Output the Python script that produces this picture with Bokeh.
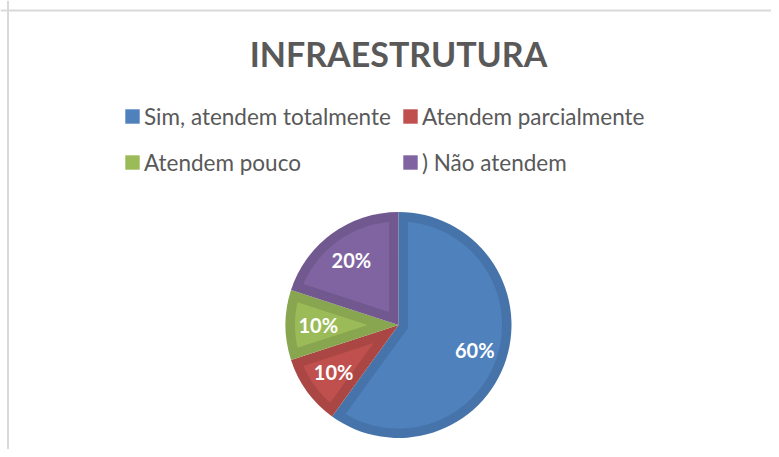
import numpy as np
from bokeh.plotting import figure
from bokeh.models import ColumnDataSource, Range1d, Label, Legend, LegendItem, Span
from bokeh.core.properties import value
from bokeh.embed import file_html
from bokeh.resources import INLINE

# ---- data ----
title_text = "INFRAESTRUTURA"
categories = ["Sim, atendem totalmente", "Atendem parcialmente", "Atendem pouco", ") Não atendem"]
percentages = [60, 10, 10, 20]
fill_colors = ["#4F81BD", "#C0504D", "#9BBB59", "#8064A2"]
edge_colors = ["#4674AA", "#AA4744", "#88A54F", "#71598F"]

# ---- geometry (1 data unit = 1 px) ----
W, H = 771, 449
cx, cy = 398, H - 324.5
R = 113
inset = 9.5
FONT = "Lato"

vals = np.array(percentages, dtype=float)
frac = vals / vals.sum()
cum = np.concatenate([[0.0], np.cumsum(frac)])
start = np.pi / 2 - cum[:-1] * 2 * np.pi
end = np.pi / 2 - cum[1:] * 2 * np.pi
mid = (start + end) / 2
half = frac * np.pi

rho = R - inset
delta = np.arcsin(inset / rho)
xs, ys = [], []
for s, e, m, h in zip(start, end, mid, half):
    shift = inset / np.sin(h)
    ax_, ay_ = cx + shift * np.cos(m), cy + shift * np.sin(m)
    phi = np.linspace(s - delta, e + delta, 120)
    xs.append(np.concatenate([[ax_], cx + rho * np.cos(phi)]))
    ys.append(np.concatenate([[ay_], cy + rho * np.sin(phi)]))

lab_d = 0.71 * R
src = ColumnDataSource(dict(
    category=categories, start=start, end=end,
    fill=fill_colors, edge=edge_colors, xs=xs, ys=ys,
    lx=cx + lab_d * np.cos(mid), ly=cy + lab_d * np.sin(mid),
    label=[f"{v}%" for v in percentages],
))

p = figure(width=W, height=H, x_range=Range1d(0, W), y_range=Range1d(0, H),
           output_backend="svg", toolbar_location=None, min_border=0)
p.axis.visible = False
p.grid.visible = False
p.outline_line_color = None
p.background_fill_color = "white"

p.wedge(x=cx, y=cy, radius=R, start_angle="start", end_angle="end", direction="clock",
        fill_color="edge", line_color=None, source=src)
pr = p.patches(xs="xs", ys="ys", fill_color="fill", line_color=None, source=src)
p.text(x="lx", y="ly", text="label", text_align="center", text_baseline="middle",
       text_color="white", text_font=value(FONT), text_font_style="bold",
       text_font_size="20px", source=src)

p.add_layout(Label(x=398, y=H - 52.5, text=title_text, text_align="center", text_baseline="middle",
                   text_font=FONT, text_font_style="bold", text_font_size="34px",
                   text_color="#595959"))

items = [LegendItem(label=c, renderers=[pr], index=i) for i, c in enumerate(categories)]
legend = Legend(items=items, ncols=2, orientation="horizontal", location=(123, 269),
                label_text_font=FONT, label_text_font_size="22.5px", label_text_color="#595959",
                glyph_width=18, glyph_height=18, label_standoff=3, spacing=10, label_height=36,
                padding=0, margin=0, border_line_color=None, background_fill_alpha=0)
p.add_layout(legend)

p.add_layout(Span(location=7.5, dimension="height", line_color="#d9d9d9", line_width=2))
p.add_layout(Span(location=H - 10, dimension="width", line_color="#d9d9d9", line_width=2))

open("out.html", "w").write(file_html(p, INLINE))
